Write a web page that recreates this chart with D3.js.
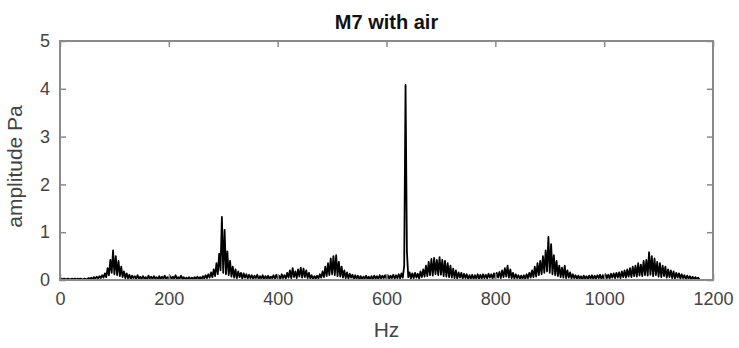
<!DOCTYPE html>
<html>
<head>
<meta charset="utf-8">
<script src="https://cdn.jsdelivr.net/npm/d3@7"></script>
<style>
  html, body { margin: 0; padding: 0; background: #fff; }
  svg { display: block; font-family: "Liberation Sans", Arial, Helvetica, sans-serif; }
</style>
</head>
<body>
<svg id="chart" width="739" height="348"></svg>
<script>
// Amplitude spectrum, one value every 2.5 Hz starting at 0 Hz (Pa)
const binStartHz = 0;
const binStepHz = 2.5;
const amplitude = [
  0.02,0.03,0.01,0.03,0.02,0.02,0.03,0.01,0.02,0.03,   // 0
  0.02,0.03,0.01,0.03,0.02,0.03,0.02,0.01,0.03,0.02,   // 25
  0.02,0.04,0.02,0.05,0.02,0.06,0.03,0.07,0.03,0.08,   // 50
  0.04,0.10,0.05,0.14,0.06,0.25,0.10,0.42,0.15,0.62,   // 75
  0.12,0.50,0.10,0.40,0.08,0.28,0.06,0.18,0.04,0.14,   // 100
  0.03,0.11,0.02,0.09,0.04,0.08,0.02,0.10,0.03,0.07,   // 125
  0.02,0.08,0.03,0.06,0.01,0.09,0.03,0.07,0.02,0.08,   // 150
  0.03,0.06,0.01,0.08,0.02,0.07,0.03,0.09,0.02,0.06,   // 175
  0.03,0.08,0.02,0.07,0.03,0.10,0.02,0.06,0.03,0.09,   // 200
  0.02,0.06,0.01,0.05,0.02,0.06,0.01,0.05,0.02,0.06,   // 225
  0.02,0.07,0.03,0.06,0.02,0.08,0.03,0.10,0.04,0.12,   // 250
  0.05,0.16,0.06,0.22,0.08,0.35,0.12,0.55,0.20,1.32,   // 275
  0.15,1.05,0.12,0.60,0.10,0.40,0.07,0.28,0.05,0.22,   // 300
  0.04,0.18,0.06,0.15,0.03,0.14,0.05,0.12,0.03,0.11,   // 325
  0.04,0.10,0.02,0.09,0.04,0.11,0.02,0.08,0.03,0.10,   // 350
  0.02,0.08,0.03,0.09,0.02,0.07,0.04,0.10,0.02,0.11,   // 375
  0.03,0.09,0.02,0.12,0.04,0.10,0.03,0.15,0.05,0.20,   // 400
  0.04,0.25,0.06,0.18,0.04,0.22,0.07,0.26,0.05,0.24,   // 425
  0.06,0.20,0.04,0.15,0.03,0.10,0.02,0.08,0.03,0.09,   // 450
  0.03,0.12,0.05,0.18,0.06,0.28,0.08,0.35,0.10,0.45,   // 475
  0.12,0.50,0.10,0.52,0.08,0.38,0.07,0.28,0.05,0.20,   // 500
  0.04,0.16,0.03,0.13,0.05,0.11,0.02,0.10,0.03,0.09,   // 525
  0.02,0.08,0.01,0.07,0.03,0.09,0.02,0.07,0.01,0.08,   // 550
  0.02,0.09,0.03,0.08,0.02,0.10,0.03,0.09,0.04,0.10,   // 575
  0.03,0.10,0.02,0.09,0.04,0.11,0.03,0.10,0.04,0.12,   // 600
  0.03,0.14,0.05,0.30,4.08,0.60,0.06,0.16,0.03,0.14,   // 625
  0.04,0.15,0.05,0.13,0.03,0.18,0.06,0.22,0.07,0.30,   // 650
  0.08,0.38,0.10,0.44,0.09,0.46,0.12,0.42,0.10,0.48,   // 675
  0.11,0.42,0.08,0.40,0.07,0.35,0.06,0.30,0.05,0.24,   // 700
  0.04,0.20,0.03,0.16,0.05,0.15,0.03,0.13,0.04,0.12,   // 725
  0.02,0.10,0.03,0.11,0.02,0.10,0.03,0.12,0.02,0.11,   // 750
  0.03,0.12,0.04,0.11,0.03,0.13,0.05,0.12,0.03,0.14,   // 775
  0.04,0.15,0.05,0.17,0.04,0.20,0.06,0.25,0.07,0.30,   // 800
  0.05,0.22,0.04,0.15,0.03,0.12,0.04,0.10,0.02,0.09,   // 825
  0.03,0.10,0.02,0.12,0.04,0.15,0.05,0.20,0.06,0.28,   // 850
  0.07,0.35,0.10,0.40,0.12,0.50,0.15,0.62,0.18,0.90,   // 875
  0.15,0.75,0.12,0.52,0.10,0.40,0.08,0.30,0.06,0.26,   // 900
  0.05,0.30,0.04,0.20,0.05,0.16,0.03,0.12,0.04,0.10,   // 925
  0.02,0.09,0.03,0.08,0.01,0.09,0.03,0.08,0.02,0.09,   // 950
  0.03,0.10,0.02,0.09,0.03,0.10,0.04,0.11,0.02,0.10,   // 975
  0.03,0.12,0.04,0.11,0.03,0.13,0.05,0.14,0.04,0.15,   // 1000
  0.05,0.16,0.04,0.18,0.06,0.20,0.05,0.22,0.07,0.25,   // 1025
  0.06,0.28,0.08,0.30,0.07,0.35,0.09,0.32,0.08,0.40,   // 1050
  0.10,0.42,0.09,0.58,0.11,0.50,0.08,0.45,0.10,0.38,   // 1075
  0.07,0.35,0.06,0.30,0.08,0.28,0.05,0.22,0.06,0.20,   // 1100
  0.04,0.18,0.03,0.15,0.05,0.14,0.03,0.12,0.04,0.10,   // 1125
  0.02,0.09,0.03,0.08,0.02,0.07,0.01,0.06,0.02,0.05,0.02 // 1150
];

const xTicks = [0, 200, 400, 600, 800, 1000, 1200];
const yTicks = [0, 1, 2, 3, 4, 5];
const titleText = "M7 with air";
const xLabelText = "Hz";
const yLabelText = "amplitude Pa";

const svg = d3.select("#chart");
const plot = { left: 60, right: 713, top: 41, bottom: 280 };

const x = d3.scaleLinear().domain([0, 1200]).range([plot.left, plot.right]);
const y = d3.scaleLinear().domain([0, 5]).range([plot.bottom, plot.top]);

const axisColor = "#8a8a8a";
const textColor = "#444444";
const tickLen = 6;

// Spectrum trace
const points = amplitude.map((a, i) => [binStartHz + i * binStepHz, a]);
svg.append("path")
  .datum(points)
  .attr("fill", "none")
  .attr("stroke", "#000")
  .attr("stroke-width", 1.8)
  .attr("stroke-linejoin", "round")
  .attr("d", d3.line().x(d => x(d[0])).y(d => y(d[1])));

// Axes: ticks point inward on all four sides (boxed plot)
function styleAxis(g) {
  g.select(".domain").remove();
  g.selectAll(".tick line").attr("stroke", axisColor).attr("stroke-width", 1.5);
  g.selectAll(".tick text")
    .attr("fill", textColor)
    .attr("font-size", 18)
    .attr("font-family", "'Liberation Sans', Arial, sans-serif");
}

svg.append("g")
  .attr("transform", `translate(0,${plot.bottom})`)
  .call(d3.axisBottom(x).tickValues(xTicks).tickFormat(d3.format("d"))
    .tickSizeInner(-tickLen).tickSizeOuter(0).tickPadding(12))
  .call(styleAxis);

svg.append("g")
  .attr("transform", `translate(0,${plot.top})`)
  .call(d3.axisTop(x).tickValues(xTicks).tickFormat("").tickSizeInner(-tickLen).tickSizeOuter(0))
  .call(styleAxis);

svg.append("g")
  .attr("transform", `translate(${plot.left},0)`)
  .call(d3.axisLeft(y).tickValues(yTicks).tickFormat(d3.format("d"))
    .tickSizeInner(-tickLen).tickSizeOuter(0).tickPadding(10))
  .call(styleAxis);

svg.append("g")
  .attr("transform", `translate(${plot.right},0)`)
  .call(d3.axisRight(y).tickValues(yTicks).tickFormat("").tickSizeInner(-tickLen).tickSizeOuter(0))
  .call(styleAxis);

// Box outline
svg.append("rect")
  .attr("x", plot.left).attr("y", plot.top)
  .attr("width", plot.right - plot.left).attr("height", plot.bottom - plot.top)
  .attr("fill", "none").attr("stroke", axisColor).attr("stroke-width", 2);

// Title and axis labels
svg.append("text")
  .attr("x", (plot.left + plot.right) / 2).attr("y", 29)
  .attr("text-anchor", "middle")
  .attr("font-size", 20).attr("font-weight", "bold").attr("fill", "#111")
  .text(titleText);

svg.append("text")
  .attr("x", (plot.left + plot.right) / 2).attr("y", 337)
  .attr("text-anchor", "middle")
  .attr("font-size", 21).attr("fill", textColor)
  .text(xLabelText);

svg.append("text")
  .attr("transform", `translate(22,${(plot.top + plot.bottom) / 2 + 6}) rotate(-90)`)
  .attr("text-anchor", "middle")
  .attr("font-size", 21).attr("fill", textColor)
  .text(yLabelText);
</script>
</body>
</html>
